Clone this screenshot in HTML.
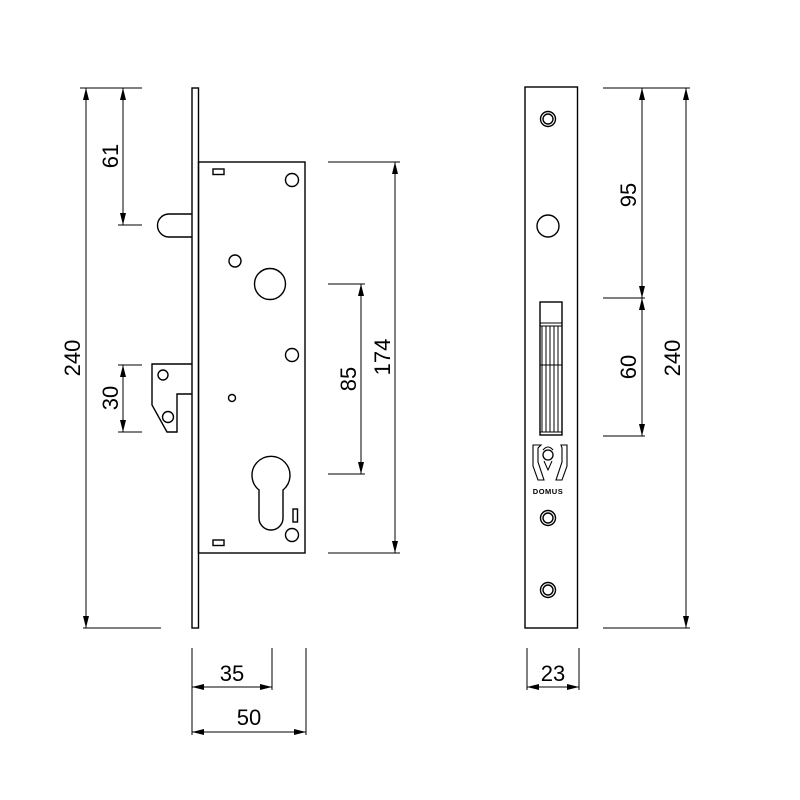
<!DOCTYPE html>
<html><head><meta charset="utf-8"><style>html,body{margin:0;padding:0;background:#fff}svg{display:block}</style></head>
<body>
<svg width="800" height="800" viewBox="0 0 800 800" xmlns="http://www.w3.org/2000/svg" font-family="Liberation Sans, sans-serif">
<defs>
<marker id="a" viewBox="0 0 12 6" refX="12" refY="3" markerWidth="12" markerHeight="6" markerUnits="userSpaceOnUse" orient="auto-start-reverse"><path d="M0,0L12,3L0,6z" fill="#000"/></marker>
</defs>
<g fill="none" stroke="#000" stroke-width="1.4">
<!-- left lock side view -->
<rect x="192" y="88" width="6.5" height="540"/>
<rect x="198.5" y="162" width="106.5" height="391"/>
<path d="M192,214 H169 A11.5,11.5 0 0 0 169,237 H192"/>
<path d="M192,364 H152 V405 L167,432 H177 V394 H192"/>
<circle cx="163" cy="375" r="5"/>
<circle cx="168" cy="417" r="5.5"/>
<rect x="213" y="169" width="11" height="5.5"/>
<rect x="213" y="540" width="11" height="5.5"/>
<circle cx="292" cy="180" r="6.5"/>
<circle cx="235" cy="261" r="6"/>
<circle cx="270" cy="284" r="15.5"/>
<circle cx="292" cy="355" r="6.5"/>
<circle cx="232" cy="398" r="3.5"/>
<path d="M259,490 A19,19 0 1 1 283,490 V518 A12,12 0 0 1 259,518 Z"/>
<rect x="293" y="509" width="4.5" height="13"/>
<circle cx="292" cy="535" r="6.5"/>
<!-- right front plate -->
<rect x="525" y="87" width="52.5" height="541"/>
<circle cx="548" cy="119" r="7.5"/><circle cx="548" cy="119" r="5"/>
<circle cx="548" cy="226" r="11"/>
<circle cx="548" cy="518" r="7.5"/><circle cx="548" cy="518" r="5"/>
<circle cx="548" cy="590" r="7.5"/><circle cx="548" cy="590" r="5"/>
<rect x="540" y="302" width="22" height="133"/>
<path d="M540,323 H562 M540,326 H562 M542,326 V432 M546,326 V432 M550,326 V432 M554,326 V432 M558,326 V432 M540,365 H562 M540,432 H562" stroke-width="1"/>
<path d="M535,445 H541 L538,448 V462 L544,480 H538 L533,466 V445 Z M561,445 H567 V466 L562,480 H556 L562,462 V448 Z" stroke-width="1.1"/>
<circle cx="548" cy="455" r="5" stroke-width="1.3"/>
<path d="M543,450 Q548,444 553,450 M544,461 L548,470 L552,461" stroke-width="1"/>
</g>
<text x="548" y="494" font-size="7.5" font-weight="bold" text-anchor="middle" letter-spacing="0.5">DOMUS</text>
<!-- dimension lines -->
<g stroke="#000" stroke-width="1" fill="none">
<path d="M80,88 H140 M83,628 H161 M115,88 H142 M118,225 H142 M118,365 H142 M118,432 H142"/>
<path d="M328,162 H400 M328,284 H365 M328,474 H365 M328,553 H400"/>
<path d="M603,88 H690 M603,298 H645 M603,436 H645 M603,628 H690"/>
<path d="M192,648 V735 M272,648 V690 M306,648 V735 M527,648 V690 M579,648 V690"/>
<line x1="86" y1="88" x2="86" y2="628" marker-start="url(#a)" marker-end="url(#a)"/>
<line x1="123" y1="88" x2="123" y2="225" marker-start="url(#a)" marker-end="url(#a)"/>
<line x1="123" y1="365" x2="123" y2="432" marker-start="url(#a)" marker-end="url(#a)"/>
<line x1="361" y1="284" x2="361" y2="474" marker-start="url(#a)" marker-end="url(#a)"/>
<line x1="395" y1="162" x2="395" y2="553" marker-start="url(#a)" marker-end="url(#a)"/>
<line x1="642" y1="88" x2="642" y2="298" marker-start="url(#a)" marker-end="url(#a)"/>
<line x1="642" y1="298" x2="642" y2="436" marker-start="url(#a)" marker-end="url(#a)"/>
<line x1="686" y1="88" x2="686" y2="628" marker-start="url(#a)" marker-end="url(#a)"/>
<line x1="192" y1="687" x2="272" y2="687" marker-start="url(#a)" marker-end="url(#a)"/>
<line x1="192" y1="732" x2="306" y2="732" marker-start="url(#a)" marker-end="url(#a)"/>
<line x1="527" y1="687" x2="579" y2="687" marker-start="url(#a)" marker-end="url(#a)"/>
</g>
<g font-size="22" text-anchor="middle" fill="#000">
<text transform="translate(80,358) rotate(-90)">240</text>
<text transform="translate(118,156) rotate(-90)">61</text>
<text transform="translate(118,398) rotate(-90)">30</text>
<text transform="translate(356,379) rotate(-90)">85</text>
<text transform="translate(390,357) rotate(-90)">174</text>
<text transform="translate(636,195) rotate(-90)">95</text>
<text transform="translate(636,367) rotate(-90)">60</text>
<text transform="translate(680,358) rotate(-90)">240</text>
<text x="232" y="681">35</text>
<text x="249" y="725">50</text>
<text x="553" y="681">23</text>
</g>
</svg>
</body></html>
